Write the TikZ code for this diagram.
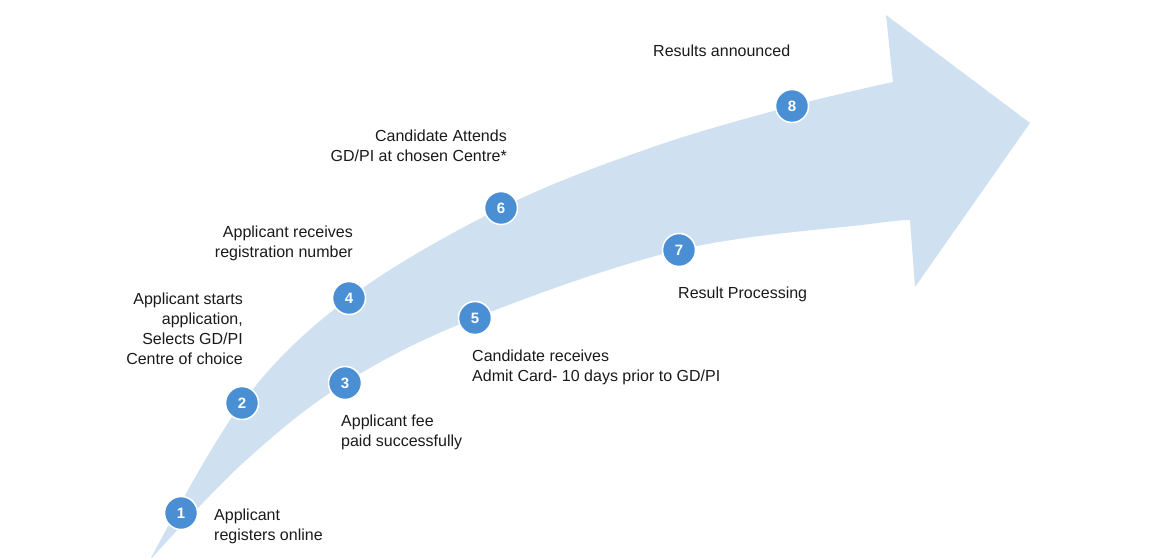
\documentclass[tikz,border=0pt]{standalone}
\usepackage{fontspec}
\setmainfont{Liberation Sans}
\definecolor{arrowfill}{HTML}{CFE0F1}
\definecolor{numfill}{HTML}{4A8FD4}
\definecolor{txt}{HTML}{1A1A1A}
\begin{document}
\begin{tikzpicture}[x=1pt,y=-1pt,
  num/.style={circle,fill=numfill,draw=white,line width=1.5pt,minimum size=33pt,inner sep=0pt,
    text=white,font=\fontsize{15}{17}\selectfont\bfseries},
  lbl/.style={inner sep=0pt,text=txt,font=\fontsize{16}{20}\selectfont}]
\useasboundingbox (0,0) rectangle (1170,557);
\fill[arrowfill] plot[smooth,tension=0.6] coordinates {(150,560) (242,403) (349,298) (501,208) (650,148) (792,106) (893,82)}
  -- (886,15) -- (1030,123) -- (915,287) --
  plot[smooth,tension=0.6] coordinates {(910,220) (870,224) (679,250) (475,318) (345,383) (243,463) (150,560)} -- cycle;
\node[num] (n1) at (181,513) {1};
\node[num] (n2) at (242,403) {2};
\node[num] (n3) at (345,383) {3};
\node[num] (n4) at (349,298) {4};
\node[num] (n5) at (475,318) {5};
\node[num] (n6) at (501,208) {6};
\node[num] (n7) at (679,250) {7};
\node[num] (n8) at (792,106) {8};
\node[lbl,anchor=north west,align=left] (t1) at (214,509) {Applicant\\registers online};
\node[lbl,anchor=north east,align=right] (t2) at (243,293) {Applicant starts\\application,\\Selects GD/PI\\Centre of choice};
\node[lbl,anchor=north west,align=left] (t3) at (341,415) {Applicant fee\\paid successfully};
\node[lbl,anchor=north east,align=right] (t4) at (353,226) {Applicant receives\\registration number};
\node[lbl,anchor=north west,align=left] (t5) at (472,350) {Candidate receives\\Admit Card- 10 days prior to GD/PI};
\node[lbl,anchor=north east,align=right] (t6) at (507,130) {Candidate Attends\\GD/PI at chosen Centre*};
\node[lbl,anchor=north west,align=left] (t7) at (678,287) {Result Processing};
\node[lbl,anchor=north west,align=left] (t8) at (653,45) {Results announced};
\end{tikzpicture}
\end{document}
